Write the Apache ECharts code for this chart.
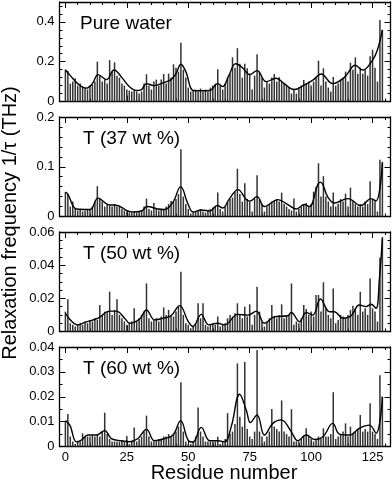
<!DOCTYPE html>
<html>
<head>
<meta charset="utf-8">
<script src="https://cdn.jsdelivr.net/npm/echarts@6/dist/echarts.min.js"></script>
<style>
  html, body { margin: 0; padding: 0; background: #fff; }
  #chart { width: 392px; height: 481px; }
</style>
</head>
<body>
<div id="chart"></div>
<script>
// relaxation frequency per residue (0..129)
const pureWater = [
  0.16, 0.155, 0.09, 0.1, 0.117, 0.08, 0.09, 0.075, 0.07, 0.06,
  0.08, 0.085, 0.1, 0.2, 0.13, 0.1, 0.11, 0.09, 0.208, 0.15,
  0.197, 0.13, 0.12, 0.09, 0.08, 0.06, 0.055, 0.05, 0.06, 0.05,
  0.04, 0.05, 0.09, 0.137, 0.08, 0.06, 0.1, 0.11, 0.08, 0.11,
  0.138, 0.09, 0.14, 0.12, 0.187, 0.17, 0.15, 0.295, 0.16, 0.12,
  0.07, 0.05, 0.055, 0.06, 0.05, 0.065, 0.05, 0.06, 0.05, 0.07,
  0.08, 0.09, 0.162, 0.08, 0.06, 0.09, 0.12, 0.14, 0.222, 0.17,
  0.268, 0.19, 0.12, 0.19, 0.167, 0.14, 0.06, 0.13, 0.237, 0.15,
  0.12, 0.07, 0.1, 0.09, 0.12, 0.138, 0.1, 0.122, 0.1, 0.09,
  0.08, 0.07, 0.04, 0.06, 0.04, 0.07, 0.08, 0.108, 0.09, 0.1,
  0.08, 0.1, 0.12, 0.205, 0.08, 0.167, 0.1, 0.07, 0.05, 0.123,
  0.08, 0.09, 0.11, 0.12, 0.15, 0.1, 0.195, 0.16, 0.222, 0.14,
  0.17, 0.14, 0.16, 0.13, 0.228, 0.26, 0.17, 0.1, 0.41, 0.36
];
const t37 = [
  0.049, 0.045, 0.02, 0.03, 0.015, 0.012, 0.015, 0.01, 0.012, 0.014,
  0.015, 0.02, 0.03, 0.061, 0.035, 0.03, 0.02, 0.025, 0.022, 0.02,
  0.025, 0.02, 0.022, 0.015, 0.012, 0.01, 0.008, 0.007, 0.009, 0.008,
  0.01, 0.012, 0.02, 0.036, 0.015, 0.012, 0.027, 0.015, 0.012, 0.014,
  0.015, 0.02, 0.025, 0.031, 0.03, 0.035, 0.045, 0.135, 0.04, 0.025,
  0.015, 0.006, 0.008, 0.01, 0.012, 0.015, 0.01, 0.008, 0.012, 0.015,
  0.018, 0.02, 0.048, 0.015, 0.01, 0.02, 0.03, 0.035, 0.038, 0.05,
  0.096, 0.045, 0.03, 0.067, 0.035, 0.03, 0.01, 0.035, 0.083, 0.035,
  0.025, 0.01, 0.02, 0.025, 0.03, 0.032, 0.035, 0.03, 0.048, 0.025,
  0.02, 0.015, 0.012, 0.036, 0.01, 0.015, 0.02, 0.025, 0.027, 0.02,
  0.025, 0.05, 0.06, 0.107, 0.04, 0.081, 0.04, 0.03, 0.02, 0.048,
  0.02, 0.025, 0.035, 0.03, 0.046, 0.02, 0.058, 0.03, 0.025, 0.02,
  0.025, 0.02, 0.03, 0.025, 0.071, 0.035, 0.03, 0.01, 0.114, 0.11
];
const t50 = [
  0.012, 0.0194, 0.005, 0.004, 0.003, 0.004, 0.005, 0.004, 0.006, 0.005,
  0.007, 0.006, 0.008, 0.007, 0.016, 0.01, 0.012, 0.012, 0.024, 0.01,
  0.013, 0.0194, 0.01, 0.008, 0.006, 0.004, 0.005, 0.006, 0.014, 0.006,
  0.008, 0.01, 0.012, 0.029, 0.008, 0.006, 0.007, 0.008, 0.006, 0.009,
  0.0145, 0.01, 0.013, 0.01, 0.009, 0.012, 0.015, 0.036, 0.01, 0.005,
  0.004, 0.002, 0.003, 0.005, 0.017, 0.008, 0.017, 0.004, 0.003, 0.004,
  0.005, 0.004, 0.009, 0.003, 0.004, 0.005, 0.008, 0.01, 0.009, 0.011,
  0.017, 0.01, 0.008, 0.015, 0.009, 0.0164, 0.004, 0.01, 0.027, 0.012,
  0.006, 0.003, 0.006, 0.008, 0.016, 0.009, 0.008, 0.01, 0.0164, 0.008,
  0.009, 0.01, 0.029, 0.004, 0.006, 0.005, 0.008, 0.016, 0.0135, 0.01,
  0.012, 0.009, 0.022, 0.022, 0.012, 0.0297, 0.014, 0.01, 0.008, 0.026,
  0.005, 0.007, 0.01, 0.009, 0.008, 0.01, 0.013, 0.0156, 0.014, 0.01,
  0.024, 0.012, 0.014, 0.01, 0.032, 0.014, 0.012, 0.006, 0.0446, 0.057
];
const t60 = [
  0.01, 0.0131, 0.004, 0.002, 0.001, 0.002, 0.002, 0.0053, 0.004, 0.004,
  0.004, 0.0045, 0.004, 0.005, 0.004, 0.006, 0.0136, 0.005, 0.003, 0.002,
  0.002, 0.002, 0.002, 0.0025, 0.002, 0.0042, 0.001, 0.002, 0.0076, 0.002,
  0.003, 0.004, 0.006, 0.0124, 0.004, 0.002, 0.002, 0.002, 0.003, 0.003,
  0.004, 0.004, 0.005, 0.004, 0.0053, 0.006, 0.008, 0.0258, 0.006, 0.002,
  0.001, 0.001, 0.002, 0.004, 0.0157, 0.006, 0.004, 0.002, 0.002, 0.002,
  0.002, 0.002, 0.0039, 0.001, 0.002, 0.003, 0.0134, 0.005, 0.006, 0.009,
  0.0334, 0.012, 0.008, 0.034, 0.007, 0.004, 0.003, 0.006, 0.0388, 0.006,
  0.004, 0.002, 0.004, 0.006, 0.0151, 0.008, 0.007, 0.006, 0.0185, 0.006,
  0.005, 0.004, 0.015, 0.002, 0.002, 0.002, 0.003, 0.004, 0.0073, 0.004,
  0.003, 0.002, 0.003, 0.004, 0.003, 0.0073, 0.004, 0.004, 0.005, 0.0218,
  0.003, 0.004, 0.005, 0.006, 0.0093, 0.004, 0.008, 0.005, 0.006, 0.007,
  0.0127, 0.006, 0.007, 0.006, 0.0174, 0.006, 0.005, 0.003, 0.0286, 0.02
];

// smooth curves [residue, value]
const pureWaterFit = [[0,0.158],[2,0.13],[5,0.09],[8.5,0.067],[11,0.09],[13.3,0.135],[16.7,0.11],[19.8,0.158],[23,0.12],[26,0.075],[29,0.055],[31,0.06],[33,0.09],[36,0.08],[40,0.095],[43,0.11],[45,0.14],[47,0.187],[49,0.15],[52,0.055],[55,0.054],[58.7,0.055],[62,0.09],[64,0.075],[66.5,0.13],[69.3,0.19],[72,0.17],[75,0.135],[78,0.155],[81.7,0.1],[85.8,0.117],[89,0.09],[93,0.06],[97.3,0.083],[101,0.11],[104,0.138],[108.8,0.09],[113.6,0.122],[118,0.182],[121,0.158],[125,0.208],[127,0.26],[129,0.36]];
const t37Fit = [[0,0.049],[1,0.045],[4.5,0.015],[10,0.014],[13.3,0.037],[17.4,0.024],[21.4,0.022],[25,0.012],[27.5,0.009],[30.9,0.011],[33.3,0.02],[37.7,0.015],[40.4,0.014],[43.8,0.029],[46.9,0.06],[49.9,0.025],[52,0.009],[55.3,0.013],[58.7,0.011],[61.8,0.022],[64,0.017],[66.8,0.036],[70.2,0.054],[73.6,0.034],[75,0.031],[78,0.04],[81,0.02],[86.5,0.034],[90.5,0.024],[94,0.015],[97.3,0.024],[99.3,0.02],[102.7,0.064],[103.8,0.069],[106.8,0.039],[109.5,0.027],[114.9,0.036],[120.3,0.022],[124.4,0.036],[126.4,0.031],[129,0.108]];
const t50Fit = [[0,0.011],[5,0.004],[7.9,0.0055],[13.3,0.008],[18,0.0123],[20.7,0.0123],[24.1,0.008],[26.2,0.005],[30.2,0.0075],[33,0.013],[36.3,0.007],[39.7,0.008],[43,0.0095],[46.5,0.0156],[49.9,0.0063],[51.9,0.003],[55.3,0.0103],[58.3,0.004],[62,0.005],[64.8,0.004],[70.2,0.0103],[74.3,0.0099],[77.7,0.0123],[81,0.005],[85.1,0.0089],[90.5,0.0095],[91.9,0.0115],[95.3,0.0059],[98,0.0115],[100.7,0.0099],[103.8,0.0196],[107.5,0.0119],[109.5,0.0119],[112.9,0.008],[116.3,0.0095],[119.6,0.016],[122.4,0.015],[124.4,0.0164],[126.4,0.014],[127.8,0.032],[129,0.056]];
const t60Fit = [[0,0.0104],[1.8,0.0086],[4.5,0.0019],[6.5,0.0026],[9.2,0.0046],[12.6,0.0046],[16,0.0064],[18.7,0.0032],[22.8,0.0023],[26.2,0.0019],[29.5,0.0032],[33,0.0069],[36.3,0.0023],[40.4,0.0032],[43.8,0.0046],[46.9,0.0104],[49.9,0.0026],[51.9,0.0018],[55.3,0.0077],[58.7,0.0023],[62,0.0023],[64.8,0.0019],[67.5,0.008],[70.9,0.021],[73.6,0.0147],[75.3,0.0096],[78,0.0127],[81,0.0046],[84.4,0.0093],[87.8,0.0107],[91.9,0.006],[94.6,0.0023],[98,0.0046],[101.4,0.0028],[104.8,0.0039],[108.8,0.0093],[111.5,0.005],[115.6,0.0046],[119.6,0.0073],[123.7,0.0086],[126.4,0.0053],[129,0.02]];

const panelNames = ['Pure water', 'T (37 wt %)', 'T (50 wt %)', 'T (60 wt %)'];
const barData = [pureWater, t37, t50, t60];
const fitData = [pureWaterFit, t37Fit, t50Fit, t60Fit];
const yMax = [0.5, 0.2, 0.06, 0.04];
const yMajor = [[0, 0.2, 0.4], [0, 0.1, 0.2], [0, 0.02, 0.04, 0.06], [0, 0.01, 0.02, 0.03, 0.04]];
const yMinorStep = [0.04, 0.02, 0.005, 0.005];
const xMajor = [0, 25, 50, 75, 100, 125];

const xMin = -2.4, xMax = 132.3;
const tops = [2, 117, 232, 347];
const font = 'Liberation Sans, Arial, Helvetica, sans-serif';

function steps(step, max) {
  const out = [];
  for (let k = 0; k * step <= max + 1e-9; k++) out.push(Math.round(k * step * 1e6) / 1e6);
  return out;
}
const xMinor = steps(5, 130);

const grids = [], xAxes = [], yAxes = [], series = [], graphics = [];

panelNames.forEach((name, i) => {
  grids.push({ left: 59.5, width: 331, top: tops[i], height: 99.5 });
  const yMinor = steps(yMinorStep[i], yMax[i]);
  const last = i === panelNames.length - 1;

  [['bottom', xMajor, 6, true], ['bottom', xMinor, 3, false], ['top', xMajor, 6, false], ['top', xMinor, 3, false]]
    .forEach(([pos, ticks, len, label], k) => {
      xAxes.push({
        type: 'value', gridIndex: i, position: pos, min: xMin, max: xMax,
        axisLine: { show: k % 2 === 0, onZero: false, lineStyle: { color: '#000', width: 1.3 } },
        axisTick: { show: true, inside: true, length: len, customValues: ticks, lineStyle: { color: '#000', width: 1 } },
        axisLabel: { show: label && last, customValues: xMajor, margin: 4, color: '#000', fontSize: 13, fontFamily: font },
        splitLine: { show: false }
      });
    });

  [['left', yMajor[i], 6, true], ['left', yMinor, 3, false], ['right', yMajor[i], 6, false], ['right', yMinor, 3, false]]
    .forEach(([pos, ticks, len, label], k) => {
      yAxes.push({
        type: 'value', gridIndex: i, position: pos, min: 0, max: yMax[i],
        axisLine: { show: k % 2 === 0, onZero: false, lineStyle: { color: '#000', width: 1.3 } },
        axisTick: { show: true, inside: true, length: len, customValues: ticks, lineStyle: { color: '#000', width: 1 } },
        axisLabel: { show: label, customValues: yMajor[i], margin: 5, color: '#000', fontSize: 13, fontFamily: font },
        splitLine: { show: false }
      });
    });

  series.push({
    type: 'bar', xAxisIndex: 4 * i, yAxisIndex: 4 * i,
    data: barData[i].map((v, r) => [r, v]),
    barWidth: 1.5,
    itemStyle: { color: '#333' },
    silent: true
  });
  series.push({
    type: 'line', xAxisIndex: 4 * i, yAxisIndex: 4 * i,
    data: fitData[i], smooth: 0.4, symbol: 'none', z: 5,
    lineStyle: { color: '#000', width: 1.4 },
    silent: true
  });

  graphics.push({
    type: 'text', left: i === 0 ? 80 : 83, top: tops[i] + 12,
    style: { text: name, fontSize: 19, fontFamily: font, fill: '#000' }
  });
});

graphics.push({
  type: 'text', x: 224, y: 473,
  style: { text: 'Residue number', fontSize: 20, fontFamily: font, fill: '#000', align: 'center', verticalAlign: 'middle' }
});
graphics.push({
  type: 'text', x: 10, y: 223, rotation: Math.PI / 2,
  style: { text: 'Relaxation frequency 1/τ (THz)', fontSize: 20, fontFamily: font, fill: '#000', align: 'center', verticalAlign: 'middle' }
});

const chart = echarts.init(document.getElementById('chart'), null, { renderer: 'canvas' });
chart.setOption({
  backgroundColor: '#fff',
  animation: false,
  grid: grids,
  xAxis: xAxes,
  yAxis: yAxes,
  series: series,
  graphic: graphics
});
</script>
</body>
</html>
